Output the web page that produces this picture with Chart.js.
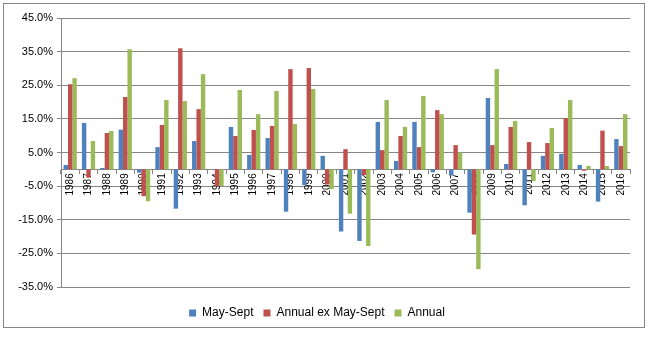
<!DOCTYPE html>
<html>
<head>
<meta charset="utf-8">
<script src="https://cdn.jsdelivr.net/npm/chart.js@4"></script>
<style>
  body { margin: 0; background: #fff; }
  .frame {
    position: absolute; left: 3px; top: 3px;
    width: 642px; height: 325px;
    border: 1px solid #868686; box-sizing: border-box;
  }
  .frame canvas { display: block; }
</style>
</head>
<body>
<div class="frame"><canvas class="js-chart" width="640" height="323"></canvas></div>
<script>
const ctx = document.querySelector(".js-chart").getContext("2d");

// ===== data (percent) =====
const years = [
  "1986", "1987", "1988", "1989", "1990", "1991", "1992", "1993", "1994", "1995",
  "1996", "1997", "1998", "1999", "2000", "2001", "2002", "2003", "2004", "2005",
  "2006", "2007", "2008", "2009", "2010", "2011", "2012", "2013", "2014", "2015", "2016",
];
const maySept = [
  1.3, 13.8, 0.4, 11.8, -1.0, 6.6, -11.7, 8.4, 0, 12.6,
  4.3, 9.3, -12.6, -4.7, 4.0, -18.5, -21.3, 14.1, 2.5, 14.1,
  -0.9, -1.8, -12.9, 21.2, 1.6, -10.7, 4.0, 4.6, 1.3, -9.6, 9.0,
];
const annualExMaySept = [
  25.3, -2.5, 10.8, 21.5, -8.0, 13.2, 36.0, 17.9, -5.0, 9.9,
  11.7, 12.9, 29.8, 30.1, -4.5, 6.0, -1.7, 5.7, 9.9, 6.6,
  17.6, 7.2, -19.4, 7.2, 12.6, 8.1, 7.8, 15.2, -0.4, 11.5, 6.9,
];
const annual = [
  27.1, 8.4, 11.4, 35.7, -9.5, 20.6, 20.3, 28.3, -5.0, 23.6,
  16.4, 23.3, 13.5, 23.9, -5.9, -13.2, -22.8, 20.6, 12.6, 21.8,
  16.4, 5.0, -29.7, 29.8, 14.4, -3.5, 12.3, 20.6, 1.0, 1.0, 16.4,
];
const Y_MIN = -35;
const Y_MAX = 45;
const Y_STEP = 10;

const GRID = "#868686";

new Chart(ctx, {
  type: "bar",
  data: {
    labels: years,
    datasets: [
      { label: "May-Sept", data: maySept, backgroundColor: "#4F81BD", borderWidth: 0 },
      { label: "Annual ex May-Sept", data: annualExMaySept, backgroundColor: "#C0504D", borderWidth: 0 },
      { label: "Annual", data: annual, backgroundColor: "#9BBB59", borderWidth: 0 },
    ],
  },
  options: {
    responsive: false,
    animation: false,
    events: [],
    layout: { padding: { top: 14, right: 14, bottom: -2, left: 0 } },
    datasets: {
      bar: { categoryPercentage: 0.72, barPercentage: 1.0 },
    },
    plugins: {
      tooltip: { enabled: false },
      legend: {
        position: "bottom",
        // empty title only used as a spacer above the legend items
        title: {
          display: true,
          text: " ",
          font: { size: 5 },
          padding: { top: 0, bottom: 4 },
        },
        labels: {
          boxWidth: 7,
          boxHeight: 7,
          padding: 10,
          color: "#000",
          font: { family: "Liberation Sans", size: 12 },
        },
      },
    },
    scales: {
      x: {
        position: { y: 0 },
        grid: {
          offset: true,
          drawOnChartArea: false,
          drawTicks: true,
          tickLength: 4,
          color: GRID,
        },
        border: { display: true, color: GRID },
        ticks: {
          autoSkip: false,
          minRotation: 90,
          maxRotation: 90,
          padding: 0,
          color: "#000",
          font: { family: "Liberation Sans", size: 10 },
        },
      },
      y: {
        min: Y_MIN,
        max: Y_MAX,
        afterFit(scale) {
          scale.width = 57;
        },
        grid: { color: GRID, tickLength: 4 },
        border: { display: true, color: GRID },
        ticks: {
          stepSize: Y_STEP,
          padding: 4,
          color: "#000",
          font: { family: "Liberation Sans", size: 11 },
          callback: (v) => v.toFixed(1) + "%",
        },
      },
    },
  },
});
</script>
</body>
</html>
